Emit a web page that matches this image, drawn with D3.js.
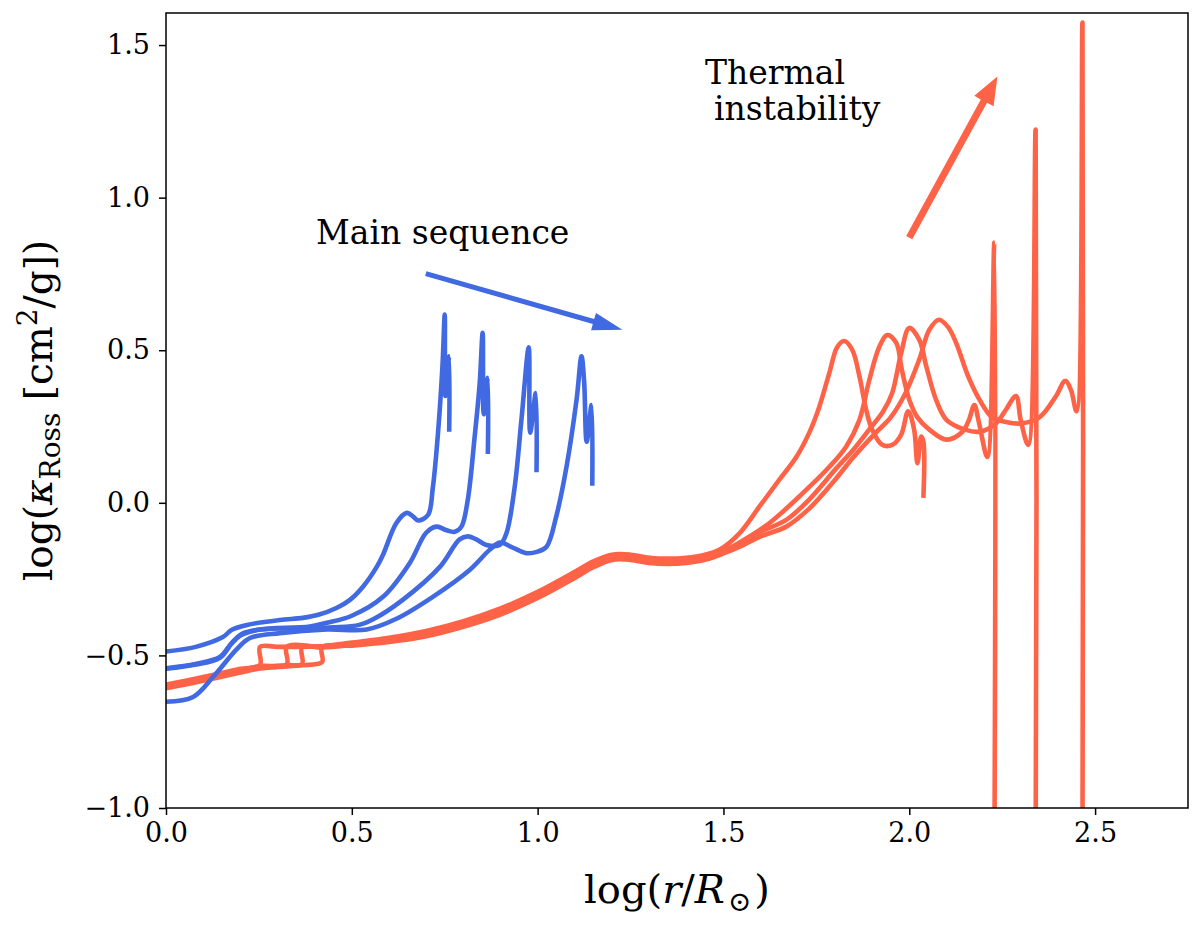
<!DOCTYPE html>
<html>
<head>
<meta charset="utf-8">
<script src="https://cdn.jsdelivr.net/npm/d3@7"></script>
<style>
  body { margin: 0; background: #fff; }
  text { font-family: "DejaVu Serif", serif; }
</style>
</head>
<body>
<svg id="chart"></svg>
<script>
// x ticks / y ticks
var xTicks = [0, 0.5, 1.0, 1.5, 2.0, 2.5];
var yTicks = [-1.0, -0.5, 0.0, 0.5, 1.0, 1.5];

// main sequence models (blue)
var b1x = [0, 0.08, 0.153, 0.177, 0.218, 0.306, 0.368, 0.41, 0.46, 0.495, 0.53, 0.567, 0.584, 0.62, 0.648, 0.665, 0.678, 0.705, 0.718, 0.732, 0.744, 0.750, 0.752, 0.762, 0.762];
var b1y = [-0.487, -0.472, -0.44, -0.416, -0.40, -0.384, -0.377, -0.367, -0.344, -0.318, -0.275, -0.21, -0.17, -0.066, -0.033, -0.045, -0.058, -0.04, 0.05, 0.23, 0.45, 0.617, 0.35, 0.48, 0.233];
var b2x = [0, 0.08, 0.145, 0.18, 0.207, 0.253, 0.387, 0.433, 0.50, 0.584, 0.656, 0.70, 0.728, 0.755, 0.777, 0.795, 0.812, 0.83, 0.844, 0.852, 0.855, 0.866, 0.866];
var b2y = [-0.544, -0.53, -0.508, -0.455, -0.428, -0.415, -0.405, -0.393, -0.37, -0.308, -0.197, -0.098, -0.078, -0.09, -0.095, -0.078, 0.01, 0.21, 0.39, 0.557, 0.29, 0.41, 0.16];
var b3x = [0, 0.08, 0.145, 0.17, 0.2, 0.24, 0.3, 0.45, 0.52, 0.56, 0.637, 0.737, 0.79, 0.812, 0.835, 0.862, 0.898, 0.916, 0.938, 0.957, 0.976, 0.98, 0.995, 0.997];
var b3y = [-0.542, -0.528, -0.505, -0.47, -0.435, -0.418, -0.412, -0.408, -0.40, -0.38, -0.318, -0.21, -0.12, -0.11, -0.12, -0.138, -0.138, -0.10, 0.05, 0.28, 0.51, 0.23, 0.36, 0.10];
var b4x = [0, 0.073, 0.127, 0.19, 0.226, 0.306, 0.433, 0.54, 0.62, 0.718, 0.817, 0.87, 0.898, 0.93, 0.97, 1.0, 1.024, 1.05, 1.078, 1.105, 1.118, 1.125, 1.132, 1.145, 1.147];
var b4y = [-0.652, -0.636, -0.57, -0.48, -0.443, -0.427, -0.415, -0.415, -0.38, -0.308, -0.22, -0.155, -0.13, -0.145, -0.165, -0.16, -0.144, -0.045, 0.12, 0.34, 0.48, 0.40, 0.20, 0.32, 0.056];

// thermally unstable models (red)
var r1x = [0, 0.1, 0.2, 0.253, 0.253, 0.3, 0.42, 0.5, 0.6, 0.7, 0.8, 0.9, 1.0, 1.1, 1.15, 1.2, 1.25, 1.3, 1.35, 1.4, 1.45, 1.489, 1.543, 1.597, 1.65, 1.696, 1.731, 1.758, 1.785, 1.806, 1.825, 1.847, 1.866, 1.884, 1.90, 1.927, 1.954, 1.978, 1.997, 2.013, 2.022, 2.032, 2.038, 2.038];
var r1y = [-0.596, -0.571, -0.544, -0.531, -0.472, -0.472, -0.470, -0.458, -0.442, -0.420, -0.388, -0.346, -0.292, -0.226, -0.192, -0.170, -0.170, -0.180, -0.183, -0.180, -0.170, -0.154, -0.100, -0.012, 0.075, 0.150, 0.230, 0.315, 0.426, 0.510, 0.530, 0.500, 0.414, 0.305, 0.240, 0.190, 0.190, 0.223, 0.300, 0.240, 0.130, 0.217, 0.200, 0.016];
var r2x = [0, 0.1, 0.2, 0.253, 0.325, 0.325, 0.42, 0.5, 0.6, 0.7, 0.8, 0.9, 1.0, 1.1, 1.15, 1.2, 1.25, 1.3, 1.35, 1.4, 1.45, 1.5, 1.55, 1.624, 1.712, 1.785, 1.83, 1.866, 1.892, 1.919, 1.941, 1.965, 1.98, 2.0, 2.022, 2.054, 2.10, 2.143, 2.16, 2.175, 2.188, 2.21, 2.229, 2.229];
var r2y = [-0.600, -0.575, -0.548, -0.535, -0.528, -0.472, -0.472, -0.462, -0.447, -0.426, -0.394, -0.353, -0.299, -0.233, -0.198, -0.175, -0.175, -0.185, -0.188, -0.185, -0.175, -0.158, -0.125, -0.066, 0.030, 0.118, 0.184, 0.272, 0.400, 0.510, 0.550, 0.524, 0.436, 0.338, 0.280, 0.240, 0.207, 0.233, 0.270, 0.320, 0.260, 0.150, 0.853, -1.2];
var r3x = [0, 0.1, 0.2, 0.253, 0.325, 0.366, 0.366, 0.42, 0.5, 0.6, 0.7, 0.8, 0.9, 1.0, 1.1, 1.15, 1.2, 1.25, 1.3, 1.35, 1.4, 1.45, 1.5, 1.55, 1.6, 1.669, 1.73, 1.80, 1.85, 1.892, 1.93, 1.954, 1.978, 2.0, 2.027, 2.046, 2.072, 2.10, 2.15, 2.19, 2.233, 2.26, 2.287, 2.30, 2.32, 2.34, 2.34];
var r3y = [-0.604, -0.579, -0.552, -0.539, -0.532, -0.528, -0.473, -0.474, -0.466, -0.452, -0.432, -0.400, -0.360, -0.306, -0.240, -0.205, -0.181, -0.181, -0.191, -0.194, -0.191, -0.181, -0.162, -0.130, -0.095, -0.056, 0.010, 0.108, 0.175, 0.240, 0.300, 0.360, 0.490, 0.573, 0.534, 0.446, 0.338, 0.272, 0.240, 0.233, 0.260, 0.305, 0.350, 0.270, 0.190, 1.223, -1.2];
var r4x = [0, 0.1, 0.2, 0.253, 0.325, 0.366, 0.42, 0.42, 0.5, 0.6, 0.7, 0.8, 0.9, 1.0, 1.1, 1.15, 1.2, 1.25, 1.3, 1.35, 1.4, 1.45, 1.5, 1.55, 1.6, 1.669, 1.73, 1.80, 1.85, 1.91, 1.95, 1.99, 2.027, 2.054, 2.08, 2.105, 2.126, 2.16, 2.188, 2.223, 2.26, 2.30, 2.35, 2.395, 2.42, 2.435, 2.45, 2.466, 2.466];
var r4y = [-0.608, -0.583, -0.556, -0.543, -0.536, -0.532, -0.522, -0.474, -0.468, -0.456, -0.437, -0.406, -0.366, -0.312, -0.246, -0.211, -0.187, -0.187, -0.197, -0.200, -0.197, -0.187, -0.166, -0.140, -0.110, -0.078, -0.020, 0.075, 0.150, 0.230, 0.280, 0.360, 0.470, 0.567, 0.600, 0.575, 0.524, 0.410, 0.340, 0.280, 0.265, 0.260, 0.280, 0.350, 0.400, 0.370, 0.300, 1.574, -1.2];

// annotation arrows: [x0, y0, x1, y1]
var msArrow = [0.699, 0.751, 1.228, 0.567];
var tiArrow = [2.0, 0.869, 2.237, 1.397];

var blueSeries = [[b1x, b1y], [b2x, b2y], [b3x, b3y], [b4x, b4y]];
var redSeries = [[r1x, r1y], [r2x, r2y], [r3x, r3y], [r4x, r4y]];

var W = 1200, H = 927;
var margins = {top: 13, bottom: 119, left: 166, right: 12};

var svg = d3.select("#chart").attr("width", W).attr("height", H);

var xScale = d3.scaleLinear().domain([0, 2.75]).range([margins.left, W - margins.right]);
var yScale = d3.scaleLinear().domain([-1, 1.605]).range([H - margins.bottom, margins.top]);

svg.append("clipPath").attr("id", "plotclip")
   .append("rect")
   .attr("x", margins.left).attr("y", margins.top)
   .attr("width", W - margins.left - margins.right)
   .attr("height", H - margins.top - margins.bottom);

var line = d3.line()
  .x(function(d){ return xScale(d[0]); })
  .y(function(d){ return yScale(d[1]); })
  .curve(d3.curveCatmullRom.alpha(0.5));

var toPts = function(s){
  return s[0].map(function(v, i){ return [v, s[1][i]]; });
};

var plot = svg.append("g").attr("clip-path", "url(#plotclip)");

plot.selectAll("path.red")
  .data(redSeries)
  .enter().append("path")
  .attr("class", "red")
  .attr("d", function(s){ return line(toPts(s)); })
  .attr("fill", "none")
  .attr("stroke", "tomato")
  .attr("stroke-width", 4.6)
  .attr("stroke-linejoin", "round");

plot.selectAll("path.blue")
  .data(blueSeries)
  .enter().append("path")
  .attr("class", "blue")
  .attr("d", function(s){ return line(toPts(s)); })
  .attr("fill", "none")
  .attr("stroke", "royalblue")
  .attr("stroke-width", 4.6)
  .attr("stroke-linejoin", "round");

// arrows (built from tail/tip through scales)
var arrowPath = function(a, w, hw, hl){
  var x0 = xScale(a[0]), y0 = yScale(a[1]), x1 = xScale(a[2]), y1 = yScale(a[3]);
  var dx = x1 - x0, dy = y1 - y0, len = Math.sqrt(dx*dx + dy*dy);
  var ux = dx/len, uy = dy/len, nx = -uy, ny = ux;
  var bx = x1 - ux*hl, by = y1 - uy*hl;
  var p = [
    [x0 + nx*w/2, y0 + ny*w/2],
    [bx + nx*w/2, by + ny*w/2],
    [bx + nx*hw, by + ny*hw],
    [x1, y1],
    [bx - nx*hw, by - ny*hw],
    [bx - nx*w/2, by - ny*w/2],
    [x0 - nx*w/2, y0 - ny*w/2]
  ];
  return "M" + p.map(function(q){ return q[0].toFixed(1) + "," + q[1].toFixed(1); }).join("L") + "Z";
};

svg.append("path").attr("d", arrowPath(msArrow, 5, 9, 30)).attr("fill", "royalblue");
svg.append("path").attr("d", arrowPath(tiArrow, 7, 11, 28)).attr("fill", "tomato");

// frame
svg.append("rect")
  .attr("x", margins.left).attr("y", margins.top)
  .attr("width", W - margins.left - margins.right)
  .attr("height", H - margins.top - margins.bottom)
  .attr("fill", "none").attr("stroke", "black").attr("stroke-width", 1.5);

var xAxis = d3.axisBottom(xScale).tickValues(xTicks).tickFormat(d3.format(".1f")).tickSize(7).tickPadding(8);
var yAxis = d3.axisLeft(yScale).tickValues(yTicks).tickFormat(d3.format(".1f")).tickSize(7).tickPadding(9);

var gx = svg.append("g").attr("transform", "translate(0," + (H - margins.bottom) + ")").call(xAxis);
var gy = svg.append("g").attr("transform", "translate(" + margins.left + ",0)").call(yAxis);
[gx, gy].forEach(function(g){
  g.select(".domain").remove();
  g.selectAll(".tick line").attr("stroke", "black").attr("stroke-width", 1.5);
  g.selectAll(".tick text").attr("fill", "black").style("font-family", "DejaVu Serif").style("font-size", "27px");
});

// annotations
svg.append("text").attr("x", 316).attr("y", 244)
  .style("font-size", "33px").text("Main sequence");
svg.append("text").attr("x", 705).attr("y", 84)
  .style("font-size", "33px").text("Thermal");
svg.append("text").attr("x", 714).attr("y", 120)
  .style("font-size", "33px").text("instability");

// axis labels
var xl = svg.append("text")
  .attr("x", (margins.left + W - margins.right)/2).attr("y", 903)
  .attr("text-anchor", "middle").style("font-size", "40px");
xl.append("tspan").text("log(");
xl.append("tspan").style("font-style", "italic").text("r");
xl.append("tspan").text("/");
xl.append("tspan").style("font-style", "italic").text("R");
xl.append("tspan").attr("dy", 8).attr("dx", 3).style("font-size", "28px").text("\u2299");
xl.append("tspan").attr("dy", -8).attr("dx", 3).text(")");

var yl = svg.append("text")
  .attr("transform", "translate(52," + ((margins.top + H - margins.bottom)/2) + ") rotate(-90)")
  .attr("text-anchor", "middle").style("font-size", "39px");
yl.append("tspan").text("log(");
yl.append("tspan").style("font-style", "italic").text("\u03ba");
yl.append("tspan").attr("dy", 8).style("font-size", "28px").text("Ross");
yl.append("tspan").attr("dy", -8).text(" [cm");
yl.append("tspan").attr("dy", -15).style("font-size", "28px").text("2");
yl.append("tspan").attr("dy", 15).text("/g])");
</script>
</body>
</html>
